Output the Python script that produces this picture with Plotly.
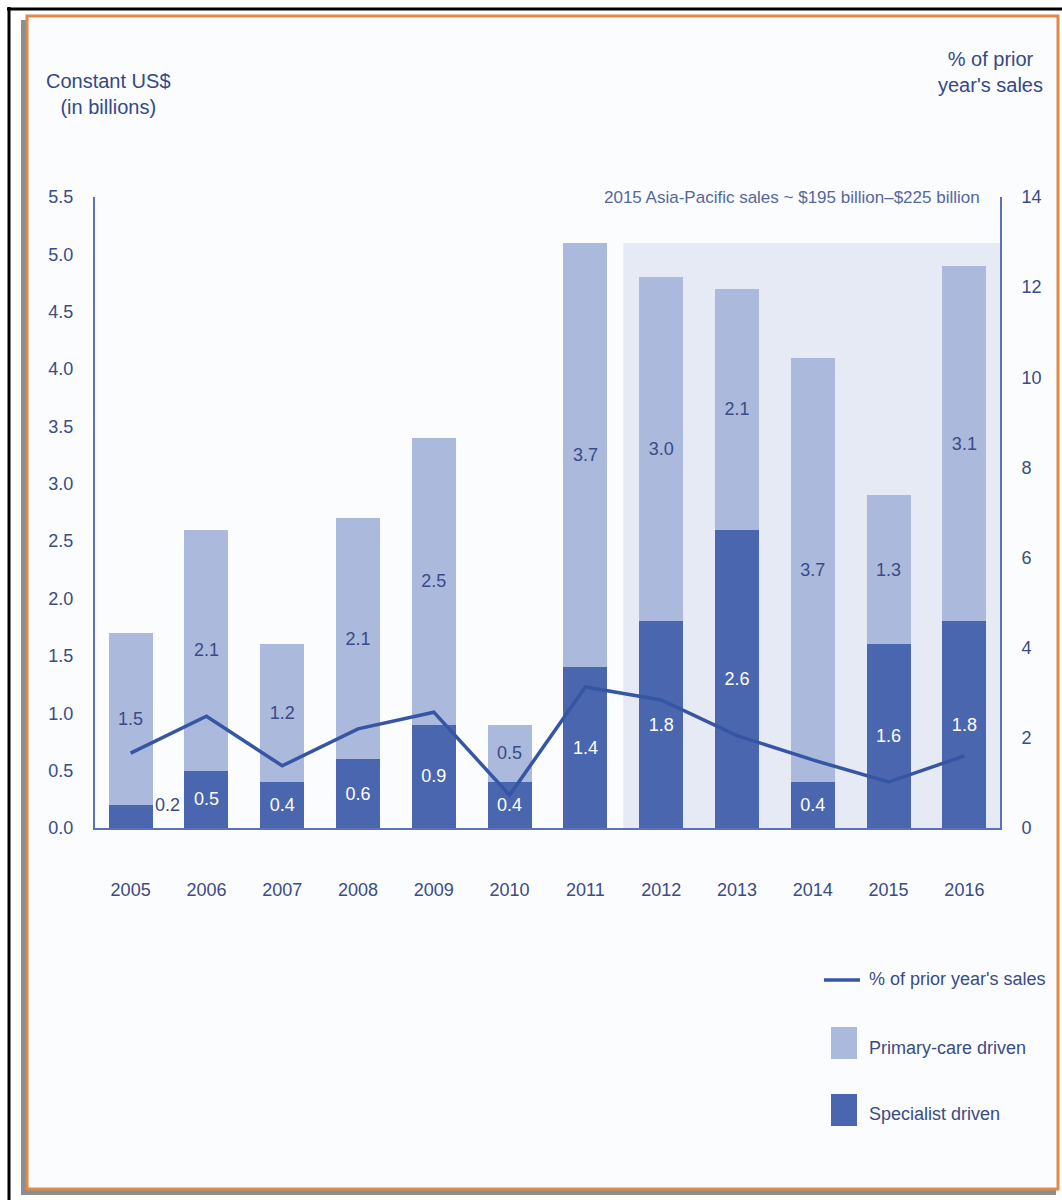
import plotly.graph_objects as go

# ---- data -------------------------------------------------------------
years = ["2005", "2006", "2007", "2008", "2009", "2010",
         "2011", "2012", "2013", "2014", "2015", "2016"]
specialist = [0.2, 0.5, 0.4, 0.6, 0.9, 0.4, 1.4, 1.8, 2.6, 0.4, 1.6, 1.8]
primary_care = [1.5, 2.1, 1.2, 2.1, 2.5, 0.5, 3.7, 3.0, 2.1, 3.7, 1.3, 3.1]
pct_prior_sales = [1.66, 2.48, 1.38, 2.2, 2.57, 0.73, 3.13, 2.84, 2.05, 1.51, 1.02, 1.6]

left_ticks = [0.0, 0.5, 1.0, 1.5, 2.0, 2.5, 3.0, 3.5, 4.0, 4.5, 5.0, 5.5]
right_ticks = [0, 2, 4, 6, 8, 10, 12, 14]
forecast_start = "2012"

# ---- styling ----------------------------------------------------------
FONT = "Liberation Sans, Arial, sans-serif"
TXT = "#3a4b85"
AXIS = "#5a72b8"
DARK = "#4a66ae"
LIGHT = "#aab9dc"
SHADE = "#e5eaf4"
LINE = "#3656a4"
ORANGE = "#e08a4a"

W, H = 1062, 1200
ML, MR, MT, MB = 95, 62, 197, 372
X_RANGE = [-0.47, len(years) - 1 + 0.47]


def px_x(p):
    return (p - ML) / (W - ML - MR)


def px_y(p):
    return (H - MB - p) / (H - MT - MB)


fig = go.Figure()

fig.add_trace(go.Bar(
    x=years, y=specialist, name="Specialist driven",
    marker=dict(color=DARK, line=dict(width=0)),
    width=0.58,
    text=[f"{v:.1f}" for v in specialist],
    textposition=["none"] + ["inside"] * (len(years) - 1),
    insidetextanchor="middle",
    textfont=dict(family=FONT, size=18, color="white"),
    constraintext="none",
    showlegend=False,
))
fig.add_trace(go.Bar(
    x=years, y=primary_care, name="Primary-care driven",
    marker=dict(color=LIGHT, line=dict(width=0)),
    width=0.58,
    text=[f"{v:.1f}" for v in primary_care],
    textposition="inside",
    insidetextanchor="middle",
    textfont=dict(family=FONT, size=18, color=TXT),
    constraintext="none",
    showlegend=False,
))
fig.add_trace(go.Scatter(
    x=years, y=pct_prior_sales, yaxis="y2", mode="lines",
    name="% of prior year's sales",
    line=dict(color=LINE, width=3.5),
    showlegend=False,
))

# the first specialist value is too small for its bar, so it sits beside it
fig.add_annotation(x=0, y=specialist[0], xref="x", yref="y",
                   text=f"{specialist[0]:.1f}", showarrow=False, xshift=37,
                   font=dict(family=FONT, size=18, color=TXT))

totals = [s + p for s, p in zip(specialist, primary_care)]
start_idx = years.index(forecast_start)

shapes = [
    # outer black frame
    dict(type="line", xref="paper", yref="paper", x0=px_x(7), x1=px_x(W),
         y0=px_y(9), y1=px_y(9), line=dict(color="black", width=3)),
    dict(type="line", xref="paper", yref="paper", x0=px_x(9), x1=px_x(9),
         y0=px_y(7), y1=px_y(H), line=dict(color="black", width=3)),
    # drop shadow and orange card
    dict(type="rect", xref="paper", yref="paper", layer="below",
         x0=px_x(21), x1=px_x(1056), y0=px_y(20), y1=px_y(1195),
         fillcolor="#8d8d8d", line=dict(width=0)),
    dict(type="rect", xref="paper", yref="paper", layer="below",
         x0=px_x(27), x1=px_x(1058), y0=px_y(16), y1=px_y(1189),
         fillcolor="#fbfcfd", line=dict(color=ORANGE, width=3)),
    # shaded forecast band
    dict(type="rect", xref="x", yref="y", layer="below",
         x0=start_idx - 0.5, x1=X_RANGE[1], y0=0, y1=max(totals),
         fillcolor=SHADE, line=dict(width=0)),
    # legend swatches
    dict(type="line", xref="paper", yref="paper", x0=px_x(824), x1=px_x(860),
         y0=px_y(980), y1=px_y(980), line=dict(color=LINE, width=3.5)),
    dict(type="rect", xref="paper", yref="paper", x0=px_x(831), x1=px_x(857),
         y0=px_y(1027), y1=px_y(1059), fillcolor=LIGHT, line=dict(width=0)),
    dict(type="rect", xref="paper", yref="paper", x0=px_x(831), x1=px_x(857),
         y0=px_y(1094), y1=px_y(1126), fillcolor=DARK, line=dict(width=0)),
]

legend_rows = [
    ("% of prior year's sales", 867, 979),
    ("Primary-care driven", 867, 1048),
    ("Specialist driven", 867, 1114),
]
for text, x, y in legend_rows:
    fig.add_annotation(text=text, xref="paper", yref="paper", x=px_x(x), y=px_y(y),
                       xanchor="left", yanchor="middle", showarrow=False,
                       font=dict(family=FONT, size=18, color=TXT))

fig.add_annotation(text="Constant US$<br>(in billions)", xref="paper", yref="paper",
                   x=px_x(108), y=px_y(94), xanchor="center", yanchor="middle",
                   showarrow=False, align="center",
                   font=dict(family=FONT, size=20, color="#34488a"))
fig.add_annotation(text="% of prior<br>year's sales", xref="paper", yref="paper",
                   x=px_x(990), y=px_y(72), xanchor="center", yanchor="middle",
                   showarrow=False, align="center",
                   font=dict(family=FONT, size=20, color="#34488a"))
fig.add_annotation(text="2015 Asia-Pacific sales ~ $195 billion\u2013$225 billion",
                   xref="paper", yref="paper", x=px_x(982), y=px_y(197),
                   xanchor="right", yanchor="middle", showarrow=False,
                   font=dict(family=FONT, size=17, color="#55679c"))

tickfont = dict(family=FONT, size=18, color=TXT)
fig.update_layout(
    width=W, height=H, autosize=False,
    margin=dict(l=ML, r=MR, t=MT, b=MB, pad=0),
    paper_bgcolor="white", plot_bgcolor="rgba(0,0,0,0)",
    barmode="stack", bargap=0.42,
    shapes=shapes,
    xaxis=dict(type="category", range=X_RANGE, showline=True, linecolor=AXIS,
               linewidth=2, ticks="", showgrid=False, zeroline=False,
               tickfont=tickfont, ticklabelstandoff=44, fixedrange=True),
    yaxis=dict(range=[0, left_ticks[-1]], tickvals=left_ticks, tickformat=".1f",
               showline=True, linecolor=AXIS, linewidth=2, ticks="",
               showgrid=False, zeroline=False, tickfont=tickfont,
               ticklabelstandoff=16),
    yaxis2=dict(range=[0, right_ticks[-1]], tickvals=right_ticks, overlaying="y",
                side="right", showline=True, linecolor=AXIS, linewidth=2,
                ticks="", showgrid=False, zeroline=False, tickfont=tickfont,
                ticklabelstandoff=16),
    showlegend=False,
)

fig.write_html("out.html")
